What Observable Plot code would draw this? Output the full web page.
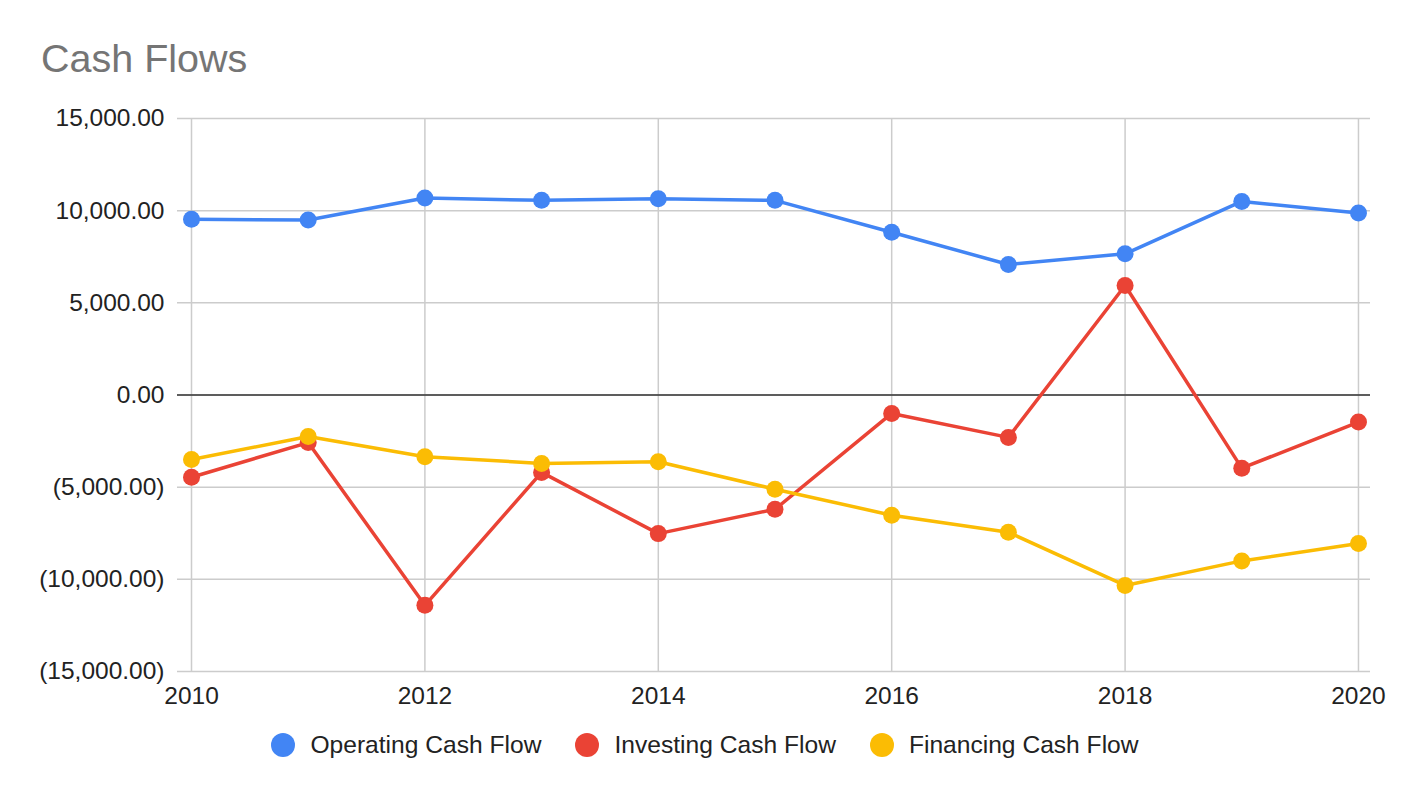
<!DOCTYPE html>
<html>
<head>
<meta charset="utf-8">
<script src="https://cdn.jsdelivr.net/npm/d3@7"></script>
<script src="https://cdn.jsdelivr.net/npm/@observablehq/plot@0.6"></script>
<style>
  html, body { margin: 0; padding: 0; background: #fff; }
  body { width: 1410px; height: 798px; overflow: hidden; font-family: Arial, "Liberation Sans", sans-serif; }
  #title { height: 100px; box-sizing: border-box; padding-top: 39px; padding-left: 41px; font-size: 39.5px; line-height: 39px; color: #757575; }
  #chart svg { display: block; }
  #legend { height: 50px; display: flex; justify-content: center; align-items: center; font-size: 24.6px; color: #222; }
  .item { display: flex; align-items: center; margin: 0 17px; }
  .sw { width: 24px; height: 24px; border-radius: 50%; margin-right: 15px; }
</style>
</head>
<body>
<div id="title">Cash Flows</div>
<div id="chart"></div>
<div id="legend"></div>
<script>
const years = [2010, 2011, 2012, 2013, 2014, 2015, 2016, 2017, 2018, 2019, 2020];
const operating = [9530, 9490, 10690, 10560, 10650, 10560, 8830, 7080, 7660, 10500, 9870];
const investing = [-4460, -2580, -11410, -4200, -7520, -6200, -1000, -2300, 5940, -3970, -1470];
const financing = [-3500, -2250, -3350, -3710, -3620, -5110, -6520, -7450, -10330, -9000, -8060];
const seriesNames = ["Operating Cash Flow", "Investing Cash Flow", "Financing Cash Flow"];
const seriesColors = ["#4285F4", "#EA4335", "#FBBC04"];
const xTicks = [2010, 2012, 2014, 2016, 2018, 2020];
const yTicks = [-15000, -10000, -5000, 0, 5000, 10000, 15000];

const seriesValues = [operating, investing, financing];
const data = [];
seriesNames.forEach((name, i) => {
  years.forEach((yr, j) => data.push({ series: name, year: yr, value: seriesValues[i][j] }));
});

const fmt = d3.format(",.2f");
const yFormat = d => d < 0 ? `(${fmt(-d)})` : fmt(d);

const marks = [
  Plot.gridY(yTicks, { stroke: "#cccccc", strokeOpacity: 1, strokeWidth: 1.5 }),
  Plot.gridX(xTicks, { stroke: "#cccccc", strokeOpacity: 1, strokeWidth: 1.5 }),
  Plot.ruleY([0], { stroke: "#333333", strokeWidth: 1.5 })
];
seriesNames.forEach(name => {
  const d = data.filter(r => r.series === name);
  marks.push(Plot.line(d, { x: "year", y: "value", stroke: "series", strokeWidth: 3.5 }));
  marks.push(Plot.dot(d, { x: "year", y: "value", fill: "series", r: 8.5 }));
});

const chart = Plot.plot({
  width: 1410,
  height: 620,
  marginLeft: 177,
  marginRight: 40,
  marginTop: 18,
  marginBottom: 49,
  style: { fontFamily: "Arial, 'Liberation Sans', sans-serif", fontSize: "24.5px", color: "#222", background: "white" },
  x: { domain: [2009.88, 2020.103], ticks: xTicks, tickFormat: d => String(d), tickSize: 0, tickPadding: 15, label: null },
  y: { domain: [-15000, 15000], ticks: yTicks, tickFormat: yFormat, tickSize: 0, tickPadding: 13, label: null },
  color: { domain: seriesNames, range: seriesColors },
  marks
});
document.getElementById("chart").appendChild(chart);

const legend = document.getElementById("legend");
seriesNames.forEach((name, i) => {
  const item = document.createElement("div");
  item.className = "item";
  const sw = document.createElement("div");
  sw.className = "sw";
  sw.style.background = seriesColors[i];
  const label = document.createElement("span");
  label.textContent = name;
  item.appendChild(sw);
  item.appendChild(label);
  legend.appendChild(item);
});
</script>
</body>
</html>
